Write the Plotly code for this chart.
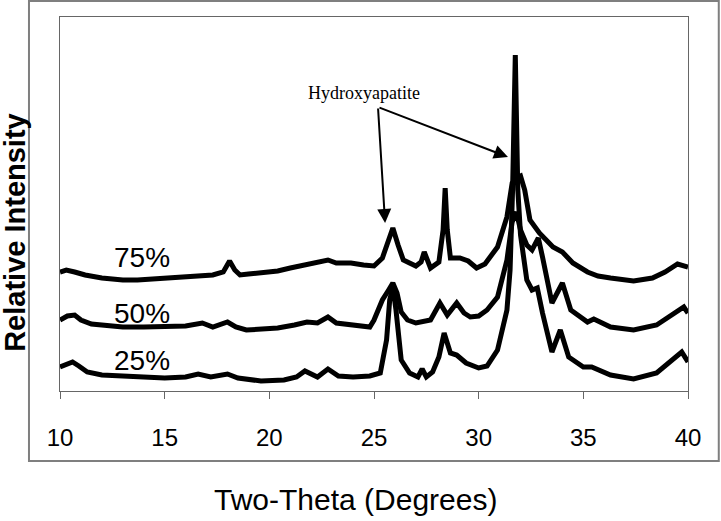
import plotly.graph_objects as go

# Two-theta positions (degrees) and relative intensity (a.u.)
theta_75 = [10.0, 10.3, 10.7, 11.2, 12.0, 13.0, 13.7, 14.5, 15.5, 16.5, 17.3, 17.8, 18.1, 18.35, 18.6,
            19.0, 19.6, 20.4, 21.0, 21.9, 22.4, 22.8, 23.2, 23.9, 24.5, 25.0, 25.4, 25.6, 25.9, 26.15,
            26.4, 27.0, 27.25, 27.4, 27.55, 27.7, 28.1, 28.3, 28.4, 28.5, 28.65, 29.1, 29.5, 29.9, 30.3,
            30.9, 31.35, 31.6, 31.8, 32.0, 32.2, 32.45, 32.9, 33.2, 33.55, 34.0, 34.5, 35.2, 35.7, 36.3,
            37.4, 38.3, 38.9, 39.5, 40.0]
int_75 = [119, 121, 119, 116, 113, 111, 111, 112, 113, 115, 116, 119, 130, 121, 116,
          117, 118, 120, 123, 127, 128, 131, 128, 128, 126, 125, 133, 144, 163, 146,
          131, 125, 129, 139, 129, 123, 129, 161, 203, 161, 133, 133, 130, 123, 127,
          144, 174, 208, 213, 215, 201, 171, 158, 152, 144, 139, 128, 119, 115, 113,
          110, 113, 119, 127, 124]

theta_50 = [10.0, 10.35, 10.7, 11.0, 11.5, 12.3, 13.0, 14.0, 15.0, 16.0, 16.8, 17.3, 18.0, 18.4, 18.9,
            19.6, 20.4, 21.2, 21.8, 22.3, 22.8, 23.2, 23.9, 24.8, 25.0, 25.4, 25.7, 25.9, 26.1, 26.3,
            26.6, 27.0, 27.7, 28.15, 28.5, 28.95, 29.3, 29.6, 30.0, 30.4, 30.9, 31.35, 31.6, 31.8, 32.0,
            32.3, 32.55, 32.85, 33.05, 33.5, 34.0, 34.4, 35.2, 35.5, 36.3, 37.4, 38.5, 39.3, 39.8, 40.0]
int_50 = [71, 75, 76, 71, 67, 65, 64, 64, 64, 65, 68, 64, 69, 64, 61,
          62, 63, 66, 69, 68, 74, 68, 66, 64, 71, 91, 101, 108, 98, 79,
          71, 68, 71, 88, 76, 88, 78, 74, 75, 81, 94, 131, 169, 179, 161,
          146, 141, 153, 134, 88, 108, 81, 69, 72, 64, 61, 66, 78, 84, 78]

theta_25 = [10.0, 10.3, 10.6, 10.9, 11.3, 12.0, 13.0, 14.0, 15.0, 16.0, 16.6, 17.2, 18.0, 18.5, 19.6,
            20.7, 21.3, 21.7, 22.3, 22.8, 23.3, 24.0, 24.8, 25.3, 25.6, 25.75, 25.9, 26.05, 26.3, 26.7,
            27.1, 27.3, 27.5, 27.8, 28.1, 28.35, 28.65, 28.95, 29.4, 30.0, 30.4, 30.9, 31.35, 31.5, 31.62,
            31.75, 31.87, 32.0, 32.3, 32.55, 32.8, 33.05, 33.5, 33.9, 34.3, 35.0, 35.4, 36.3, 37.4, 38.5,
            39.1, 39.7, 40.0]
int_25 = [24, 27, 29, 25, 19, 16, 15, 14, 13, 14, 17, 14, 17, 13, 10,
          11, 14, 20, 14, 22, 15, 14, 15, 18, 51, 91, 104, 81, 31, 18,
          14, 22, 14, 19, 34, 58, 38, 36, 28, 23, 25, 41, 81, 121, 201,
          336, 201, 156, 111, 101, 103, 78, 39, 61, 34, 24, 24, 16, 12, 18,
          29, 39, 29]

series_labels = ["75%", "50%", "25%"]
label_theta = 13.9
label_intensity = [134, 78, 31]

x_ticks = [10, 15, 20, 25, 30, 35, 40]

annot_text = "Hydroxyapatite"
annot_text_pos = (24.52, 298)
arrow_tail = (25.19, 284)
arrow_heads = [(25.53, 168), (31.4, 234)]

fig = go.Figure()
for th, it, name in [(theta_75, int_75, "75%"), (theta_50, int_50, "50%"), (theta_25, int_25, "25%")]:
    fig.add_trace(go.Scatter(x=th, y=it, mode="lines", name=name,
                             line=dict(color="black", width=5), showlegend=False))

annotations = []
for lab, yv in zip(series_labels, label_intensity):
    annotations.append(dict(x=label_theta, y=yv, xref="x", yref="y", text=lab, showarrow=False,
                            xanchor="center", yanchor="middle",
                            font=dict(family="Liberation Sans, Arial", size=28, color="black")))

annotations.append(dict(x=annot_text_pos[0], y=annot_text_pos[1], xref="x", yref="y", text=annot_text,
                        showarrow=False, xanchor="center", yanchor="middle",
                        font=dict(family="Liberation Serif, Times New Roman", size=18, color="black")))
for hx, hy in arrow_heads:
    annotations.append(dict(x=hx, y=hy, xref="x", yref="y", ax=arrow_tail[0], ay=arrow_tail[1],
                            axref="x", ayref="y", text="", showarrow=True, arrowhead=2,
                            arrowsize=1.4, arrowwidth=2, arrowcolor="black"))

annotations.append(dict(x=0.47, y=-0.291, xref="paper", yref="paper", text="Two-Theta (Degrees)",
                        showarrow=False, xanchor="center", yanchor="middle",
                        font=dict(family="Liberation Sans, Arial", size=30, color="black")))
annotations.append(dict(x=-0.072, y=0.425, xref="paper", yref="paper", text="<b>Relative Intensity</b>",
                        textangle=-90, showarrow=False, xanchor="center", yanchor="middle",
                        font=dict(family="Liberation Sans, Arial", size=29, color="black")))

fig.update_layout(
    width=721, height=521,
    margin=dict(l=60, r=33, t=17, b=130),
    paper_bgcolor="white", plot_bgcolor="white",
    annotations=annotations,
    shapes=[dict(type="rect", xref="paper", yref="paper", x0=-0.0494, x1=1.049, y0=-0.187, y1=1.043,
                 line=dict(color="#7f7f7f", width=2), fillcolor="rgba(0,0,0,0)", layer="below")],
    xaxis=dict(range=[10, 40], tickvals=x_ticks, ticks="outside", ticklen=7, tickcolor="#666",
               showline=True, linecolor="#666", linewidth=1, mirror=True, showgrid=False, zeroline=False,
               tickfont=dict(family="Liberation Sans, Arial", size=24, color="black"),
               ticklabelstandoff=18),
    yaxis=dict(range=[0, 374], showticklabels=False, ticks="", showline=True, linecolor="#666",
               linewidth=1, mirror=True, showgrid=False, zeroline=False),
)

fig.write_html("out.html", config={"displayModeBar": False},
               post_script="document.body.style.margin='0';document.body.style.padding='0';")
